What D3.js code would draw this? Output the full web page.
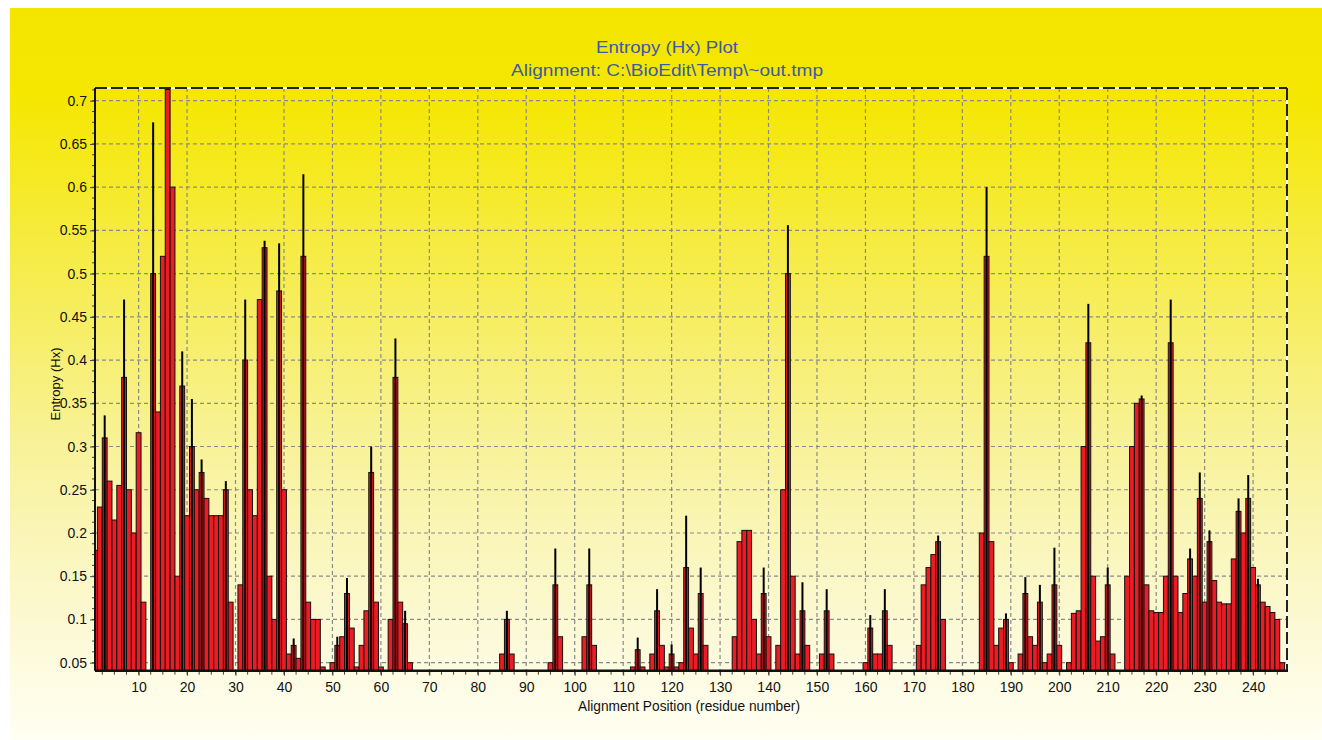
<!DOCTYPE html>
<html><head><meta charset="utf-8">
<script src="https://cdn.jsdelivr.net/npm/d3@7/dist/d3.min.js"></script>
<style>body{margin:0;background:#fff;}svg{display:block;}</style>
</head><body>
<svg id="c" width="1322" height="740"></svg>
<script>
// Entropy (Hx) per alignment position 1..246
const entropy = [
  0.18,0.23,0.31,0.26,0.215,0.255,0.38,0.25,0.2,0.316,
  0.12,0,0.5,0.34,0.52,0.713,0.6,0.15,0.37,0.22,
  0.3,0.25,0.27,0.24,0.22,0.22,0.22,0.25,0.12,0,
  0.14,0.4,0.25,0.22,0.47,0.53,0.15,0.1,0.48,0.25,
  0.06,0.07,0.055,0.52,0.12,0.1,0.1,0.045,0,0.05,
  0.07,0.08,0.13,0.09,0.045,0.07,0.11,0.27,0.12,0.045,
  0,0.1,0.38,0.12,0.095,0.05,0,0,0,0,
  0,0,0,0,0,0,0,0,0,0,
  0,0,0,0,0.06,0.1,0.06,0,0,0,
  0,0,0,0,0.05,0.14,0.08,0,0,0,
  0,0.08,0.14,0.07,0,0,0,0,0,0,
  0,0.045,0.065,0.045,0,0.06,0.11,0.07,0.045,0.06,
  0.045,0.05,0.16,0.09,0.06,0.13,0.07,0,0,0,
  0,0,0.08,0.19,0.203,0.203,0.1,0.06,0.13,0.08,
  0,0.07,0.25,0.5,0.15,0.06,0.11,0.07,0,0,
  0.06,0.11,0.06,0,0,0,0,0,0,0.05,
  0.09,0.06,0.06,0.11,0.07,0,0,0,0,0,
  0.07,0.14,0.16,0.175,0.19,0.1,0,0,0,0,
  0,0,0,0.2,0.52,0.19,0.07,0.09,0.1,0.05,
  0,0.06,0.13,0.08,0.07,0.12,0.05,0.06,0.14,0.07,
  0,0.05,0.107,0.11,0.3,0.42,0.15,0.075,0.08,0.14,
  0.06,0,0,0.15,0.3,0.35,0.355,0.14,0.11,0.108,
  0.108,0.15,0.42,0.15,0.108,0.13,0.17,0.15,0.24,0.12,
  0.19,0.145,0.12,0.118,0.118,0.17,0.225,0.2,0.24,0.16,
  0.14,0.12,0.115,0.108,0.1,0.05
];
// Thin black peak spikes
const spikePositions = [3,7,13,19,21,23,28,32,36,39,42,44,51,53,58,63,65,86,96,103,113,117,120,123,126,139,144,147,152,161,164,175,185,189,193,196,199,206,210,217,223,227,229,231,237,239,241];
const spikeTops = [0.336,0.47,0.675,0.41,0.355,0.285,0.26,0.47,0.538,0.535,0.078,0.615,0.08,0.148,0.3,0.425,0.11,0.11,0.182,0.182,0.079,0.135,0.071,0.22,0.16,0.16,0.556,0.143,0.135,0.105,0.135,0.197,0.6,0.107,0.149,0.14,0.183,0.465,0.16,0.359,0.47,0.182,0.27,0.203,0.24,0.267,0.147];
const xTickValues = [10,20,30,40,50,60,70,80,90,100,110,120,130,140,150,160,170,180,190,200,210,220,230,240];
const yTickValues = [0.05,0.1,0.15,0.2,0.25,0.3,0.35,0.4,0.45,0.5,0.55,0.6,0.65,0.7];
const titleLines = ["Entropy (Hx) Plot","Alignment: C:\\BioEdit\\Temp\\~out.tmp"];
const xLabel = "Alignment Position (residue number)";
const yLabel = "Entropy (Hx)";

const svg = d3.select("#c");
const L = 95, R = 1287, T = 88, B = 670.7;
const x = d3.scaleLinear().domain([1,247]).range([L,R]);
const y = d3.scaleLinear().domain([0.0407,0.7147]).range([B,T]);

// background gradient
const defs = svg.append("defs");
const g = defs.append("linearGradient").attr("id","bg").attr("x1",0).attr("y1",0).attr("x2",0).attr("y2",1);
[[0,"#f3e500"],[0.12,"#f5e700"],[0.35,"#f6ec4a"],[0.6,"#f8f29a"],[0.85,"#fcf9d6"],[1,"#fffff4"]]
  .forEach(s=>g.append("stop").attr("offset",s[0]).attr("stop-color",s[1]));
svg.append("rect").attr("x",10).attr("y",8).attr("width",1312).attr("height",732).attr("fill","url(#bg)");
defs.append("clipPath").attr("id","clip").append("rect").attr("x",L).attr("y",T).attr("width",R-L).attr("height",B-T);

// gridlines
const grid = svg.append("g").attr("stroke","#8a8a8a").attr("stroke-width",1.2).attr("stroke-dasharray","4,3");
grid.selectAll(".vx").data(xTickValues).join("line")
  .attr("x1",d=>x(d)).attr("x2",d=>x(d)).attr("y1",T).attr("y2",B);
grid.selectAll(".hy").data(yTickValues).join("line")
  .attr("x1",L).attr("x2",R).attr("y1",d=>y(d)).attr("y2",d=>y(d));

// bars
const bars = svg.append("g").attr("clip-path","url(#clip)");
const w = x(2)-x(1);
const data = entropy.map((v,i)=>({p:i+1,v}));
bars.selectAll("rect.bar").data(data.filter(d=>d.v>y.domain()[0])).join("rect")
  .attr("class","bar")
  .attr("x",d=>x(d.p)-w/2).attr("width",w)
  .attr("y",d=>y(d.v)).attr("height",d=>B-y(d.v))
  .attr("fill","#ec1c24").attr("stroke","#111").attr("stroke-width",1);
bars.selectAll("rect.spk").data(spikePositions.map((p,i)=>({p,t:spikeTops[i],v:entropy[p-1]}))).join("rect")
  .attr("class","spk")
  .attr("x",d=>x(d.p)-1).attr("width",2)
  .attr("y",d=>y(d.t)).attr("height",d=>B-y(d.t))
  .attr("fill","#000");

// borders
svg.append("line").attr("x1",L).attr("x2",R).attr("y1",T).attr("y2",T).attr("stroke","#fff").attr("stroke-width",2);
svg.append("line").attr("x1",L).attr("x2",R).attr("y1",T).attr("y2",T).attr("stroke","#222").attr("stroke-width",2).attr("stroke-dasharray","12,4");
svg.append("line").attr("x1",R).attr("x2",R).attr("y1",T).attr("y2",B).attr("stroke","#fff").attr("stroke-width",2);
svg.append("line").attr("x1",R).attr("x2",R).attr("y1",T).attr("y2",B).attr("stroke","#222").attr("stroke-width",2).attr("stroke-dasharray","12,4");

// axes
const font = "'Liberation Sans', Arial, sans-serif";
const yAxis = svg.append("g").attr("transform",`translate(${L},0)`)
  .call(d3.axisLeft(y).tickValues(yTickValues).tickSize(5).tickPadding(3).tickFormat(d=>String(+d.toFixed(2))));
const yMinor = d3.range(0.05,0.715,0.0125).filter(v=>v<0.714);
yAxis.selectAll(".minor").data(yMinor).join("line").attr("class","minor")
  .attr("x1",-3).attr("x2",0).attr("y1",d=>y(d)).attr("y2",d=>y(d)).attr("stroke","#444");
const xAxis = svg.append("g").attr("transform",`translate(0,${B})`)
  .call(d3.axisBottom(x).tickValues(xTickValues).tickSize(5).tickPadding(6));
const xMinor = d3.range(2.5,247,2.5);
xAxis.selectAll(".minor").data(xMinor).join("line").attr("class","minor")
  .attr("x1",d=>x(d)).attr("x2",d=>x(d)).attr("y1",0).attr("y2",4).attr("stroke","#444");
[yAxis,xAxis].forEach(a=>{
  a.select(".domain").remove();
  a.selectAll(".tick line").attr("stroke","#444");
  a.selectAll(".tick text").attr("font-family",font).attr("font-size",14).attr("fill","#111");
});
svg.append("line").attr("x1",L).attr("x2",L).attr("y1",T).attr("y2",B).attr("stroke","#111").attr("stroke-width",2);
svg.append("line").attr("x1",L).attr("x2",R+1).attr("y1",B).attr("y2",B).attr("stroke","#111").attr("stroke-width",2.5);

// titles
const titleWidths = [142,312];
svg.selectAll("text.title").data(titleLines).join("text").attr("class","title")
  .attr("x",667).attr("y",(d,i)=>53+i*23).attr("text-anchor","middle")
  .attr("font-family",font).attr("font-size",17).attr("fill","#3d5aa8")
  .attr("textLength",(d,i)=>titleWidths[i]).attr("lengthAdjust","spacingAndGlyphs").text(d=>d);
svg.append("text").attr("x",689).attr("y",711).attr("text-anchor","middle")
  .attr("font-family",font).attr("font-size",14).attr("fill","#111")
  .attr("textLength",222).attr("lengthAdjust","spacingAndGlyphs").text(xLabel);
svg.append("text").attr("transform","translate(60,384) rotate(-90)").attr("text-anchor","middle")
  .attr("font-family",font).attr("font-size",13).attr("fill","#111").text(yLabel);
</script>
</body></html>
